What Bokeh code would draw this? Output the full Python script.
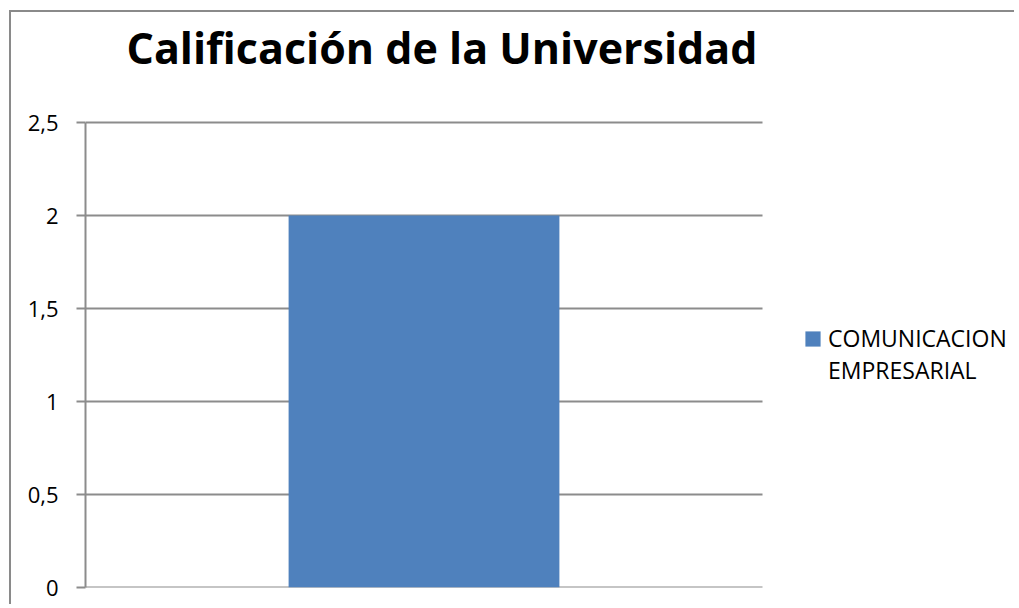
from bokeh.plotting import figure
from bokeh.models import FixedTicker, Legend, LegendItem, ColumnDataSource, Label, Range1d
from bokeh.embed import file_html
from bokeh.resources import INLINE

# ---- data ----
categories = ["Universidad"]
series_label_lines = ["COMUNICACION", "EMPRESARIAL"]
values = [2]
y_ticks = [0, 0.5, 1, 1.5, 2, 2.5]
y_tick_labels = ["0", "0,5", "1", "1,5", "2", "2,5"]
title_text = "Calificación de la Universidad"

GRAY = "#8c8c8c"
BLUE = "#4F81BD"
FONT = "Open Sans"

# ---- layout (canvas pixels) ----
W, H = 1005, 594
FL, FB = 74, 575            # frame left / bottom; frame spans to top and right edges
PLOT_W = 677                # width of the Excel-like plot area (one category slot)
PLOT_H = 465                # height from 0 to y max
Y_MAX = 2.5

x_end = (W - FL) / PLOT_W
y_end = Y_MAX * FB / PLOT_H

p = figure(width=W, height=H, x_range=Range1d(0, x_end), y_range=Range1d(0, y_end),
           output_backend="svg", toolbar_location=None,
           min_border_left=FL, min_border_right=0, min_border_top=0,
           min_border_bottom=H - FB)
p.margin = (10, 0, 0, 9)
p.styles = {"border-top": "2px solid #8a8a8a", "border-left": "2px solid #8a8a8a"}

p.outline_line_color = None
p.background_fill_color = "white"
p.border_fill_color = "white"
p.xaxis.visible = False
p.xgrid.visible = False
p.ygrid.visible = False

# horizontal gridlines across the plot area (category slot 0..len(categories))
p.segment(x0=[0] * len(y_ticks), x1=[len(categories)] * len(y_ticks),
          y0=y_ticks, y1=y_ticks, line_color=GRAY, line_width=2)

xpos = [i + 0.5 for i in range(len(categories))]
src = ColumnDataSource(dict(x=xpos, val=values, cat=categories))
r = p.vbar(x="x", top="val", width=0.4, source=src, fill_color=BLUE, line_color=None)
r2 = p.vbar(x=[], top=[], width=0.4, fill_alpha=0, line_alpha=0)

p.yaxis.ticker = FixedTicker(ticks=y_ticks)
p.yaxis.bounds = (0, Y_MAX)
p.yaxis.major_label_overrides = {t: l for t, l in zip(y_ticks, y_tick_labels)}
p.yaxis.minor_tick_line_color = None
p.yaxis.major_tick_in = 0
p.yaxis.major_tick_out = 9
p.yaxis.major_tick_line_color = GRAY
p.yaxis.major_tick_line_width = 2
p.yaxis.axis_line_color = GRAY
p.yaxis.axis_line_width = 2
p.yaxis.major_label_standoff = 18
p.yaxis.major_label_text_font = FONT
p.yaxis.major_label_text_font_size = "22px"
p.yaxis.major_label_text_color = "black"

# title
px_per_unit = PLOT_H / Y_MAX
title = Label(x=41 / PLOT_W, y=(FB - 35) / px_per_unit, text=title_text,
              text_font=FONT, text_font_size="43px", text_font_style="bold",
              text_color="black", text_align="left", text_baseline="alphabetic")
p.add_layout(title)

legend = Legend(items=[LegendItem(label=series_label_lines[0], renderers=[r]),
                       LegendItem(label=series_label_lines[1], renderers=[r2])],
                location=(718, 201), orientation="vertical",
                margin=0, padding=0, spacing=-3,
                glyph_width=19, glyph_height=19, label_standoff=6,
                label_height=30,
                label_text_font=FONT, label_text_font_size="23px",
                label_text_color="black", border_line_color=None,
                background_fill_alpha=0)
p.add_layout(legend, "center")

open("out.html", "w").write(file_html(p, INLINE))
